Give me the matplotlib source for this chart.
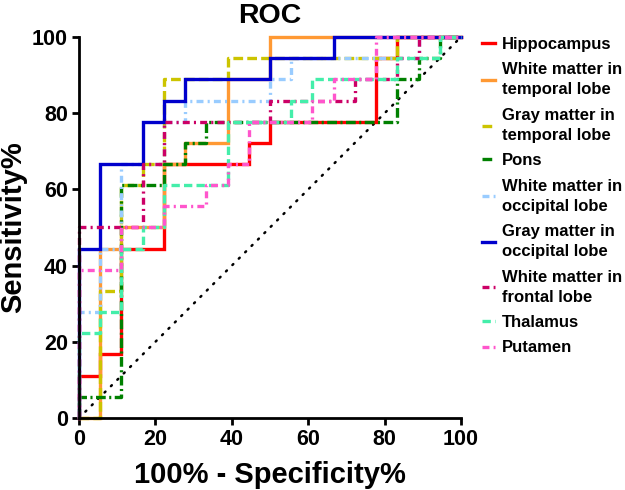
import matplotlib
matplotlib.use("Agg")
import matplotlib.pyplot as plt

plt.rcParams['font.family'] = ['Liberation Sans', 'DejaVu Sans']
plt.rcParams['font.weight'] = 'bold'
plt.rcParams['lines.scale_dashes'] = False

# ---- data (100% - specificity %, sensitivity %) ----
names = ["Hippocampus", "White matter in\ntemporal lobe", "Gray matter in\ntemporal lobe",
         "Pons", "White matter in\noccipital lobe", "Gray matter in\noccipital lobe",
         "White matter in\nfrontal lobe", "Thalamus", "Putamen"]

hippo_x = [0, 0, 5.56, 5.56, 11.11, 11.11, 22.22, 22.22, 44.44, 44.44, 50, 50, 77.78, 77.78, 83.33, 83.33, 100]
hippo_y = [0, 11.11, 11.11, 16.67, 16.67, 44.44, 44.44, 66.67, 66.67, 72.22, 72.22, 77.78, 77.78, 94.44, 94.44, 100, 100]

wmt_x = [0, 5.56, 5.56, 11.11, 11.11, 22.22, 22.22, 27.78, 27.78, 38.89, 38.89, 50, 50, 100]
wmt_y = [0, 0, 44.44, 44.44, 50, 50, 66.67, 66.67, 72.22, 72.22, 88.89, 88.89, 100, 100]

gmt_x = [0, 5.56, 5.56, 11.11, 11.11, 16.67, 16.67, 22.22, 22.22, 38.89, 38.89, 83.33, 83.33, 100]
gmt_y = [0, 0, 33.33, 33.33, 61.11, 61.11, 66.67, 66.67, 88.89, 88.89, 94.44, 94.44, 100, 100]

pons_x = [0, 0, 11.11, 11.11, 22.22, 22.22, 27.78, 27.78, 33.33, 33.33, 83.33, 83.33, 88.89, 88.89, 94.44, 94.44, 100]
pons_y = [0, 5.56, 5.56, 61.11, 61.11, 66.67, 66.67, 72.22, 72.22, 77.78, 77.78, 88.89, 88.89, 94.44, 94.44, 100, 100]

wmo_x = [0, 0, 5.56, 5.56, 11.11, 11.11, 22.22, 22.22, 27.78, 27.78, 50, 50, 55.56, 55.56, 88.89, 88.89, 100]
wmo_y = [0, 27.78, 27.78, 44.44, 44.44, 66.67, 66.67, 77.78, 77.78, 83.33, 83.33, 88.89, 88.89, 94.44, 94.44, 100, 100]

gmo_x = [0, 0, 5.56, 5.56, 16.67, 16.67, 22.22, 22.22, 27.78, 27.78, 50, 50, 66.67, 66.67, 100]
gmo_y = [0, 44.44, 44.44, 66.67, 66.67, 77.78, 77.78, 83.33, 83.33, 88.89, 88.89, 94.44, 94.44, 100, 100]

wmf_x = [0, 0, 16.67, 16.67, 22.22, 22.22, 50, 50, 72.22, 72.22, 83.33, 83.33, 88.89, 88.89, 100]
wmf_y = [0, 50, 50, 66.67, 66.67, 77.78, 77.78, 83.33, 83.33, 88.89, 88.89, 94.44, 94.44, 100, 100]

thal_x = [0, 0, 5.56, 5.56, 11.11, 11.11, 16.67, 16.67, 22.22, 22.22, 38.89, 38.89, 55.56, 55.56,
          61.11, 61.11, 83.33, 83.33, 94.44, 94.44, 100]
thal_y = [0, 22.22, 22.22, 27.78, 27.78, 44.44, 44.44, 50, 50, 61.11, 61.11, 77.78, 77.78, 83.33,
          83.33, 88.89, 88.89, 94.44, 94.44, 100, 100]

put_x = [0, 0, 11.11, 11.11, 22.22, 22.22, 33.33, 33.33, 38.89, 38.89, 44.44, 44.44, 61.11, 61.11,
         66.67, 66.67, 77.78, 77.78, 100]
put_y = [0, 38.89, 38.89, 50, 50, 55.56, 55.56, 61.11, 61.11, 66.67, 66.67, 77.78, 77.78, 83.33,
         83.33, 88.89, 88.89, 100, 100]

ref_x = [0, 100]
ref_y = [0, 100]

xs = [hippo_x, wmt_x, gmt_x, pons_x, wmo_x, gmo_x, wmf_x, thal_x, put_x]
ys = [hippo_y, wmt_y, gmt_y, pons_y, wmo_y, gmo_y, wmf_y, thal_y, put_y]

colors = ['#FF0000', '#FF9933', '#CCC400', '#008000', '#99CCFF', '#0000CC', '#CC0066', '#44EEAA', '#FF55CC']
dashes = [None, None, (7, 3), (7, 2.5, 1.5, 2.5), (5, 3, 1.5, 3), None, (5, 3, 1.5, 3), (6, 3), (5, 3, 1.5, 3)]

fig = plt.figure(figsize=(6.25, 4.9), dpi=100)
ax = fig.add_axes([79/625, 1-418/490, (461-79)/625, (418-37)/490])

ax.plot(ref_x, ref_y, color='black', lw=1.8, linestyle=(0, (0.9, 5.6)),
        dash_capstyle='round', clip_on=False, zorder=1)

handles = []
for x, y, c, d, n in zip(xs, ys, colors, dashes, names):
    if d is None:
        ln, = ax.plot(x, y, color=c, lw=2.4, label=n, clip_on=False, solid_joinstyle='miter')
    else:
        ln, = ax.plot(x, y, color=c, lw=2.4, label=n, clip_on=False, dashes=d)
    handles.append(ln)

ax.set_xlim(0, 100)
ax.set_ylim(0, 100)
ax.set_xticks([0, 20, 40, 60, 80, 100])
ax.set_yticks([0, 20, 40, 60, 80, 100])
for s in ['top', 'right']:
    ax.spines[s].set_visible(False)
for s in ['left', 'bottom']:
    ax.spines[s].set_linewidth(2.0)
ax.tick_params(direction='out', length=5, width=2.0, labelsize=15.5, pad=3)
for lab in ax.get_xticklabels() + ax.get_yticklabels():
    lab.set_fontweight('bold')

ax.set_title("ROC", fontsize=20.5, fontweight='bold', pad=10)
ax.set_xlabel("100% - Specificity%", fontsize=21, fontweight='bold')
ax.set_ylabel("Sensitivity%", fontsize=21, fontweight='bold')
ax.xaxis.set_label_coords(0.5, -0.112)
ax.yaxis.set_label_coords(-0.135, 0.5)

leg = fig.legend(handles=handles, loc='upper left', bbox_to_anchor=(482/625, 1-37/490),
                 frameon=False, fontsize=12, handlelength=0.75, handletextpad=0.45,
                 labelspacing=0.62, borderpad=0, borderaxespad=0)
for t in leg.get_texts():
    t.set_fontweight('bold')
    t.set_linespacing(1.43)

fig.savefig("out.png", dpi=100)
